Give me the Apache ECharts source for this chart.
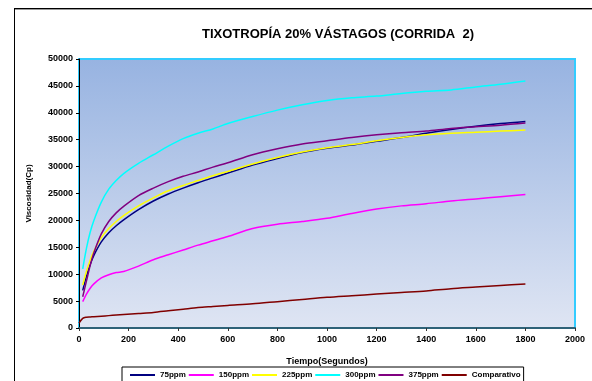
<!DOCTYPE html>
<html>
<head>
<meta charset="utf-8">
<script src="https://cdn.jsdelivr.net/npm/echarts@6/dist/echarts.min.js"></script>
<style>
  html, body { margin: 0; padding: 0; background: #ffffff; }
  #chart { width: 592px; height: 381px; }
</style>
</head>
<body>
<div id="chart"></div>
<script>
// Tiempo de medición (segundos)
const tiempos = [0, 15, 30, 45, 60, 90, 120, 150, 180, 240, 300, 360, 420, 480, 540, 600,
                 700, 800, 900, 1000, 1100, 1200, 1300, 1400, 1500, 1600, 1700, 1800];

// Viscosidad (Cp) por concentración
const ppm75 = [null, 7000, 9600, 11800, 13500, 16000, 17700, 19000, 20100, 22000, 23600, 24900, 26000, 27000, 27900, 28800,
               30300, 31500, 32600, 33400, 34000, 34700, 35400, 36200, 36900, 37500, 38000, 38400];
const ppm150 = [null, 4900, 6300, 7400, 8200, 9300, 9900, 10300, 10500, 11500, 12700, 13600, 14500, 15400, 16200, 17000,
                18500, 19300, 19800, 20400, 21300, 22100, 22700, 23100, 23600, 24000, 24400, 24800];
const ppm225 = [null, 8000, 10500, 12600, 14300, 16800, 18500, 19800, 20900, 22700, 24200, 25500, 26500, 27400, 28300, 29100,
                30500, 31700, 32700, 33500, 34100, 34800, 35400, 35900, 36200, 36400, 36600, 36800];
const ppm300 = [null, 11000, 14800, 17800, 20000, 23400, 25800, 27400, 28700, 30600, 32200, 33800, 35200, 36200, 37000, 38000,
                39300, 40500, 41500, 42300, 42800, 43100, 43600, 44000, 44250, 44800, 45300, 45900];
const ppm375 = [null, 5800, 8700, 11600, 14000, 17500, 19800, 21400, 22600, 24600, 26000, 27200, 28200, 29000, 29900, 30700,
                32200, 33300, 34200, 34800, 35400, 35900, 36300, 36600, 37100, 37400, 37700, 38100];
const comparativo = [900, 1800, 2000, 2050, 2100, 2200, 2300, 2400, 2500, 2700, 2900, 3200, 3500, 3800, 4000, 4200,
                     4500, 4900, 5300, 5700, 6000, 6300, 6600, 6900, 7300, 7600, 7900, 8200];

const nombres = ['75ppm', '150ppm', '225ppm', '300ppm', '375ppm', 'Comparativo'];
const valores = [ppm75, ppm150, ppm225, ppm300, ppm375, comparativo];
const colores = ['#000080', '#FF00FF', '#FFFF00', '#00FFFF', '#800080', '#800000'];

function pares(vals) {
  const out = [];
  tiempos.forEach((t, i) => { if (vals[i] !== null) out.push([t, vals[i]]); });
  return out;
}

const fuente = 'Arial, "Liberation Sans", sans-serif';
const chart = echarts.init(document.getElementById('chart'), null, { renderer: 'canvas' });

chart.setOption({
  animation: false,
  backgroundColor: '#ffffff',
  title: {
    text: 'TIXOTROPÍA 20% VÁSTAGOS (CORRIDA  2)',
    left: 333,
    textAlign: 'center',
    top: 23,
    textStyle: { fontFamily: fuente, fontSize: 13, fontWeight: 'bold', color: '#000' }
  },
  graphic: [
    { type: 'line', shape: { x1: 14, y1: 8.5, x2: 592, y2: 8.5 }, style: { stroke: '#000', lineWidth: 1 }, z: 100 },
    { type: 'line', shape: { x1: 14, y1: 9.5, x2: 592, y2: 9.5 }, style: { stroke: '#999', lineWidth: 1 }, z: 100 },
    { type: 'line', shape: { x1: 14.5, y1: 8, x2: 14.5, y2: 381 }, style: { stroke: '#000', lineWidth: 1 }, z: 100 }
  ],
  grid: {
    left: 79, right: 17, top: 59, bottom: 53,
    show: true,
    borderColor: '#33CCFF',
    borderWidth: 2,
    backgroundColor: {
      type: 'linear', x: 0, y: 0, x2: 0, y2: 1,
      colorStops: [
        { offset: 0, color: '#97B3E1' },
        { offset: 1, color: '#DFE5F3' }
      ]
    }
  },
  legend: {
    data: nombres,
    left: 122,
    top: 367,
    orient: 'horizontal',
    icon: 'rect',
    itemWidth: 25,
    itemHeight: 2,
    itemGap: 3,
    borderColor: '#000',
    borderWidth: 1,
    padding: [4, 3, 8, 8],
    textStyle: { fontFamily: fuente, fontSize: 8, fontWeight: 'bold', color: '#000' }
  },
  xAxis: {
    type: 'value',
    min: 0, max: 2000, interval: 200,
    name: 'Tiempo(Segundos)',
    nameLocation: 'middle',
    nameGap: 29,
    nameTextStyle: { fontFamily: fuente, fontSize: 9, fontWeight: 'bold', color: '#000' },
    axisLine: { show: true, onZero: false, lineStyle: { color: '#2E6278', width: 2 } },
    axisTick: { show: true, length: 3, lineStyle: { color: '#333' } },
    axisLabel: { margin: 7, fontFamily: fuente, fontSize: 9, fontWeight: 'bold', color: '#000',
                 formatter: v => String(v) },
    splitLine: { show: false }
  },
  yAxis: {
    type: 'value',
    min: 0, max: 50000, interval: 5000,
    name: 'Viscosidad(Cp)',
    nameLocation: 'middle',
    nameGap: 46,
    nameTextStyle: { fontFamily: fuente, fontSize: 8, fontWeight: 'bold', color: '#000' },
    axisLine: { show: true, lineStyle: { color: '#000', width: 1 } },
    axisTick: { show: true, length: 3, lineStyle: { color: '#000' } },
    axisLabel: { margin: 6, fontFamily: fuente, fontSize: 9, fontWeight: 'bold', color: '#000',
                 formatter: v => String(v) },
    splitLine: { show: false }
  },
  series: nombres.map((n, k) => ({
    name: n,
    type: 'line',
    data: pares(valores[k]),
    showSymbol: false,
    smooth: 0.3,
    color: colores[k],
    lineStyle: { width: 1.5, color: colores[k] },
    z: 2 + k
  }))
});
</script>
</body>
</html>
